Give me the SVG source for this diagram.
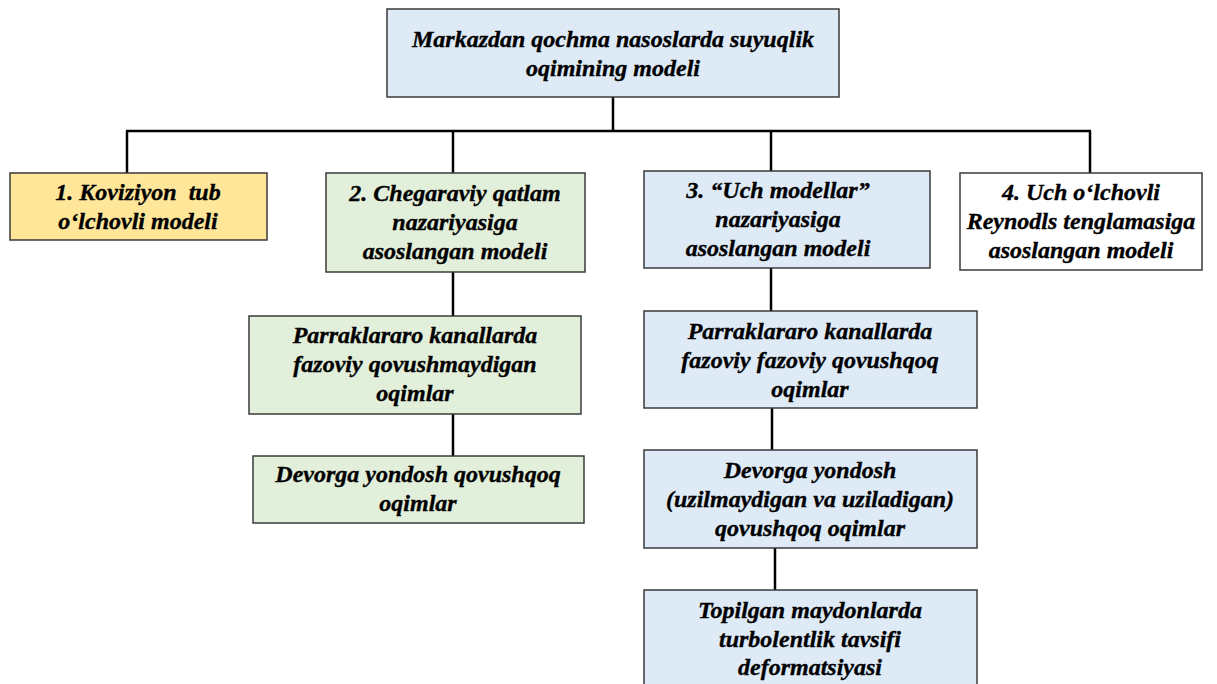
<svg xmlns="http://www.w3.org/2000/svg" width="1217" height="684" viewBox="0 0 1217 684">
<style>
.box{stroke:#3a3a3a;stroke-width:1.5}
.y{fill:#FFE699}
.g{fill:#E2EFDA}
.b{fill:#DEEBF7}
.w{fill:#FFFFFF}
text{font-family:"Liberation Serif","Times New Roman",serif;font-weight:bold;font-style:italic;font-size:24px;fill:#000;stroke:#000;stroke-width:0.35;text-anchor:middle;white-space:pre}
.conn{stroke:#000;stroke-width:2.5;fill:none}
</style>
<rect width="1217" height="684" fill="#fff"/>
<g id="connectors" class="conn">
<path d="M613,97V131"/>
<path d="M126,131H1091"/>
<path d="M127,131V173"/>
<path d="M453,131V173"/>
<path d="M771,131V171"/>
<path d="M1090,131V173"/>
<path d="M453,272V316"/>
<path d="M453,414V456"/>
<path d="M771,268V311"/>
<path d="M772,408V450"/>
<path d="M775,548V590"/>
</g>
<g id="root">
<rect class="box b" x="387" y="9" width="452" height="88"/>
<text x="613" y="47">Markazdan qochma nasoslarda suyuqlik</text>
<text x="613" y="76">oqimining modeli</text>
</g>
<g id="model1">
<rect class="box y" x="10" y="173" width="257" height="67"/>
<text x="138" y="200">1. Koviziyon  tub</text>
<text x="138" y="229">o‘lchovli modeli</text>
</g>
<g id="model2">
<rect class="box g" x="326" y="173" width="259" height="99"/>
<text x="455" y="201">2. Chegaraviy qatlam</text>
<text x="455" y="230">nazariyasiga</text>
<text x="455" y="259">asoslangan modeli</text>
</g>
<g id="model3">
<rect class="box b" x="644" y="171" width="286" height="97"/>
<text x="778" y="198">3. “Uch modellar”</text>
<text x="778" y="227">nazariyasiga</text>
<text x="778" y="256">asoslangan modeli</text>
</g>
<g id="model4">
<rect class="box w" x="960" y="173" width="242" height="97"/>
<text x="1081" y="200">4. Uch o‘lchovli</text>
<text x="1081" y="229">Reynodls tenglamasiga</text>
<text x="1081" y="258">asoslangan modeli</text>
</g>
<g id="m2a">
<rect class="box g" x="249" y="316" width="332" height="98"/>
<text x="415" y="343">Parraklararo kanallarda</text>
<text x="415" y="372">fazoviy qovushmaydigan</text>
<text x="415" y="401">oqimlar</text>
</g>
<g id="m2b">
<rect class="box g" x="253" y="456" width="331" height="67"/>
<text x="418" y="482">Devorga yondosh qovushqoq</text>
<text x="418" y="511">oqimlar</text>
</g>
<g id="m3a">
<rect class="box b" x="644" y="311" width="333" height="97"/>
<text x="810" y="339">Parraklararo kanallarda</text>
<text x="810" y="368">fazoviy fazoviy qovushqoq</text>
<text x="810" y="397">oqimlar</text>
</g>
<g id="m3b">
<rect class="box b" x="644" y="450" width="333" height="98"/>
<text x="810" y="478">Devorga yondosh</text>
<text x="810" y="507">(uzilmaydigan va uziladigan)</text>
<text x="810" y="536">qovushqoq oqimlar</text>
</g>
<g id="m3c">
<rect class="box b" x="644" y="590" width="333" height="100"/>
<text x="810" y="618">Topilgan maydonlarda</text>
<text x="810" y="647">turbolentlik tavsifi</text>
<text x="810" y="675">deformatsiyasi</text>
</g>
</svg>
